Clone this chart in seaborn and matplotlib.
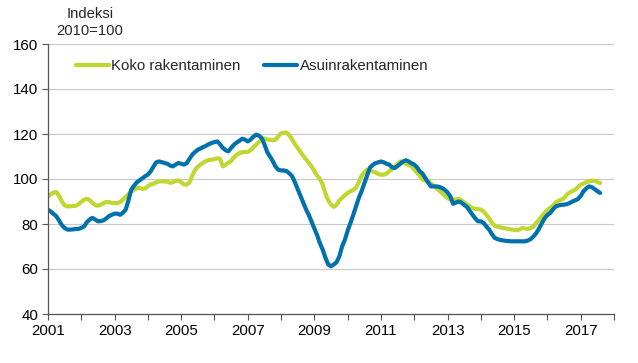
import numpy as np
import pandas as pd
import matplotlib
matplotlib.use("Agg")
import matplotlib.pyplot as plt
import seaborn as sns

series_names = ["Koko rakentaminen", "Asuinrakentaminen"]

koko = [
    92.3, 93.2, 94.0, 94.2, 92.5, 90.0, 88.3, 87.8, 87.9, 88.0, 88.1, 88.8,
    89.8, 90.8, 91.2, 90.6, 89.4, 88.4, 88.1, 88.6, 89.3, 89.8, 89.7, 89.4,
    89.3, 89.3, 89.8, 90.8, 92.0, 93.3, 94.5, 95.2, 95.9, 96.0, 95.6, 95.8,
    96.8, 97.6, 97.9, 98.5, 98.9, 99.0, 98.9, 98.8, 98.3, 98.6, 99.2, 99.4,
    98.6, 97.6, 97.5, 98.5, 101.5, 104.1, 105.5, 106.5, 107.3, 108.0, 108.4, 108.6,
    108.8, 109.2, 109.0, 105.6, 106.3, 107.2, 108.0, 109.5, 110.8, 111.5, 111.9, 112.0,
    112.0, 112.8, 114.0, 115.2, 116.5, 117.5, 118.0, 117.6, 117.4, 117.2, 117.5, 119.0,
    120.3, 120.6, 120.6, 119.5, 117.5, 115.5, 113.8, 112.0, 110.3, 108.7, 107.2, 105.6,
    103.5, 101.5, 100.0, 97.5, 93.5, 90.5, 88.6, 87.6, 88.5, 90.5, 91.6, 92.8,
    93.8, 94.5, 95.2, 96.0, 98.5, 101.5, 103.0, 104.1, 104.0, 103.4, 103.0, 102.2,
    101.9, 101.9, 102.4, 103.4, 104.5, 105.6, 106.8, 107.8, 107.5, 106.8, 106.2, 105.6,
    104.2, 102.7, 101.5, 99.7, 99.3, 98.9, 98.0, 97.0, 96.0, 94.8, 93.8, 92.5,
    91.5, 90.8, 90.8, 91.0, 91.2, 90.5, 89.6, 88.8, 87.8, 87.1, 86.7, 86.7,
    86.4, 85.5, 84.1, 82.5, 80.5, 79.2, 78.8, 78.5, 78.2, 78.0, 77.8, 77.6,
    77.4, 77.2, 77.6, 78.2, 78.0, 77.8, 78.2, 78.9, 80.5, 81.9, 83.5, 84.9,
    86.2, 87.1, 88.2, 89.6, 90.3, 90.8, 91.5, 93.0, 94.0, 94.6, 95.2, 96.3,
    97.5, 98.0, 98.6, 98.9, 99.2, 99.2, 98.7, 98.2,
]

asuin = [
    86.4, 85.5, 84.5, 83.4, 81.5, 79.5, 78.2, 77.5, 77.5, 77.6, 77.8, 77.8,
    78.3, 78.9, 80.8, 82.0, 82.7, 82.0, 81.2, 81.3, 81.6, 82.5, 83.5, 84.1,
    84.6, 84.6, 84.1, 85.0, 86.4, 90.5, 95.2, 97.0, 98.5, 99.4, 100.3, 101.2,
    102.0, 103.4, 105.5, 107.4, 107.8, 107.5, 107.1, 106.8, 106.0, 105.6, 106.4, 107.1,
    106.8, 106.4, 107.0, 109.0, 110.8, 112.0, 113.0, 113.6, 114.2, 114.8, 115.5, 116.0,
    116.4, 116.7, 115.5, 113.8, 112.8, 112.3, 113.8, 115.2, 116.2, 117.0, 117.9, 117.5,
    116.7, 117.5, 118.8, 119.7, 119.3, 118.2, 115.5, 112.0, 110.0, 108.0, 105.5, 104.1,
    103.8, 103.8, 103.5, 102.5, 101.2, 98.5, 95.5, 92.5, 89.5, 86.5, 84.0, 81.0,
    78.0, 75.0, 71.5, 68.6, 65.0, 62.0, 61.2, 62.0, 63.0, 65.6, 70.0, 73.0,
    77.0, 80.4, 84.0, 87.8, 91.5, 94.5, 98.0, 101.5, 105.0, 106.2, 107.0, 107.4,
    107.8, 107.4, 106.8, 106.4, 105.2, 104.9, 105.8, 106.8, 107.8, 108.3, 107.8, 107.0,
    106.4, 105.2, 103.4, 102.4, 100.4, 98.5, 96.7, 96.7, 96.7, 96.5, 96.0, 95.2,
    94.0, 92.3, 89.0, 89.5, 90.0, 89.5, 88.5, 87.6, 85.8, 84.1, 82.5, 81.2,
    81.2, 80.5, 78.9, 77.5, 75.5, 73.8, 73.3, 72.9, 72.7, 72.5, 72.4, 72.3,
    72.3, 72.3, 72.3, 72.3, 72.3, 72.7, 73.3, 74.5, 76.0, 78.0, 80.4, 82.5,
    84.0, 84.9, 86.5, 87.8, 88.2, 88.5, 88.6, 88.8, 89.3, 90.0, 90.5, 91.1,
    92.5, 94.5, 95.8, 96.7, 96.4, 95.5, 94.6, 93.8,
]

start_year = 2001
year_ticks = list(range(2001, 2019))
year_labels = [str(y) if y % 2 == 1 else "" for y in year_ticks]
y_ticks = [40, 60, 80, 100, 120, 140, 160]

n = len(koko)
t = start_year + np.arange(n) / 12.0
df = pd.DataFrame({
    "t": np.concatenate([t, t]),
    "value": koko + asuin,
    "series": [series_names[0]] * n + [series_names[1]] * n,
})

sns.set_theme(style="white")
plt.rcParams["font.family"] = ["Liberation Sans", "DejaVu Sans"]

fig = plt.figure(figsize=(6.38, 3.63), dpi=100)
ax = fig.add_axes([48 / 638, 1 - 314 / 363, (614 - 48) / 638, (314 - 44) / 363])

palette = {series_names[0]: "#BFD730", series_names[1]: "#0071AC"}
sns.lineplot(data=df, x="t", y="value", hue="series", palette=palette,
             linewidth=3.0, ax=ax, legend=True)

ax.set_xlim(2001, 2018)
ax.set_ylim(40, 160)
ax.set_xticks(year_ticks)
ax.set_xticklabels(year_labels)
ax.set_yticks(y_ticks)
ax.set_xlabel("")
ax.set_ylabel("")
ax.grid(axis="y", color="#c8c8c8", linewidth=0.8)
ax.grid(axis="x", visible=False)
ax.set_axisbelow(True)
for s in ["top", "right"]:
    ax.spines[s].set_visible(False)
for s in ["left", "bottom"]:
    ax.spines[s].set_color("#555555")
    ax.spines[s].set_linewidth(0.9)
ax.tick_params(axis="both", direction="out", length=4, width=0.8,
               color="#555555", labelsize=10.8, labelcolor="#000000", pad=3)
ax.tick_params(axis="x", bottom=True)
ax.tick_params(axis="y", left=True)

leg = ax.legend(loc="upper left", bbox_to_anchor=(0.025, 0.995), ncol=2,
                frameon=False, fontsize=10.8, handlelength=2.2,
                columnspacing=1.6, handletextpad=0.15)
for line in leg.get_lines():
    line.set_linewidth(3.0)

fig.text(90 / 638, 1 - 14 / 363, "Indeksi", ha="center", va="center", fontsize=10.6)
fig.text(90 / 638, 1 - 31 / 363, "2010=100", ha="center", va="center", fontsize=10.6)

fig.savefig("out.png", dpi=100)
